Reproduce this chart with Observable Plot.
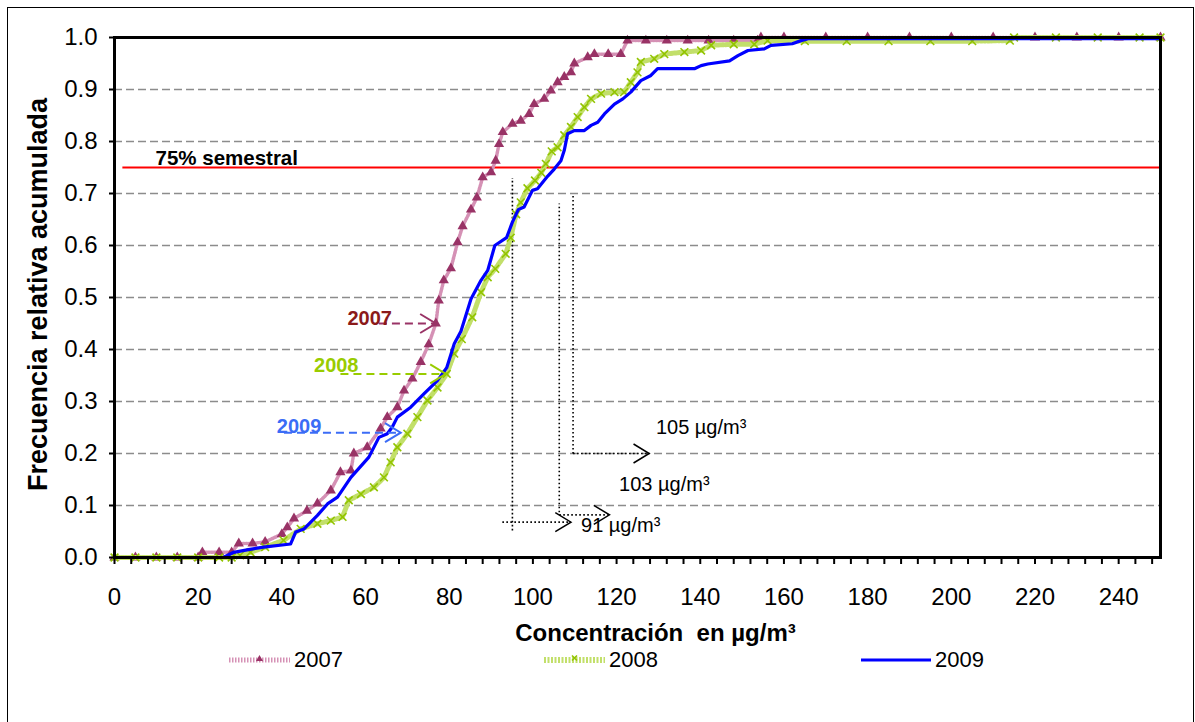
<!DOCTYPE html>
<html><head><meta charset="utf-8">
<script src="https://cdn.jsdelivr.net/npm/d3@7"></script>
<script src="https://cdn.jsdelivr.net/npm/@observablehq/plot@0.6"></script>
<style>
body{margin:0;background:#fff;}
#wrap{position:relative;width:1195px;height:722px;overflow:hidden;font-family:"Liberation Sans",Arial,sans-serif;background:#fff;}
#border{position:absolute;left:7px;top:7px;width:1187px;height:740px;border:1.5px solid #000;box-sizing:border-box;}
#chart{position:absolute;left:0;top:0;}
.leg{position:absolute;top:649px;height:22px;line-height:22px;display:flex;align-items:center;font-size:22px;color:#000;}
.leg svg{margin-right:3px;}
</style></head><body>
<div id="wrap"><div id="border"></div><div id="chart"></div><div id="legend"></div></div>
<script>
// ---- data: [concentration µg/m³, cumulative relative frequency]
const s2007 = [[0,0],[5,0],[10,0],[15,0],[20,0],[21,0.01],[25,0.01],[28,0.01],[29.7,0.027],[33,0.027],[36,0.03],[40,0.045],[41.3,0.058],[42.9,0.075],[46,0.09],[48.5,0.104],[51.7,0.129],[54,0.164],[56.5,0.167],[57.2,0.2],[60.4,0.212],[63.6,0.248],[65.2,0.27],[67.6,0.289],[69.2,0.321],[71.2,0.344],[73.2,0.376],[75.1,0.41],[76.8,0.45],[77.5,0.494],[78.7,0.533],[80.4,0.556],[82,0.606],[83.2,0.637],[85.2,0.669],[86.6,0.692],[88,0.731],[90,0.741],[91.1,0.763],[91.9,0.795],[92.8,0.818],[95.1,0.834],[97.1,0.84],[99.1,0.853],[100.3,0.872],[102.7,0.882],[104.3,0.898],[105.9,0.914],[107.5,0.924],[109.1,0.933],[109.9,0.95],[113.1,0.962],[114.7,0.968],[118,0.968],[121,0.968],[122.6,0.994],[127,0.994],[132,0.994],[137,0.994],[142,0.994],[148,0.994],[153.7,0.994],[154.5,1],[160,1],[170,1],[180,1],[190,1],[200,1],[210,1],[220,1],[230,1],[240,1],[250,1]];
const s2008 = [[0,0],[5,0],[10,0],[15,0],[20,0],[25,0],[28,0],[30,0.004],[32.5,0.01],[36,0.02],[40.4,0.033],[44.5,0.055],[48.5,0.065],[51.7,0.071],[54.5,0.078],[56,0.11],[58.9,0.122],[62,0.135],[64.4,0.154],[66,0.183],[67.6,0.212],[70,0.238],[72.4,0.27],[74.8,0.302],[77.2,0.327],[79.4,0.353],[81.2,0.392],[83,0.42],[85.5,0.462],[87.6,0.51],[89.2,0.539],[91,0.555],[93.5,0.584],[94.7,0.615],[96,0.66],[97.1,0.683],[98.7,0.71],[100.5,0.725],[102,0.74],[103.1,0.757],[104.5,0.781],[105.9,0.789],[107.5,0.812],[109.1,0.828],[110.7,0.847],[112.3,0.866],[113.9,0.882],[116.3,0.892],[119.5,0.895],[121.8,0.895],[123.4,0.914],[125,0.933],[125.8,0.953],[129,0.959],[131.4,0.968],[136.2,0.972],[140.2,0.975],[142.6,0.985],[148,0.987],[152.9,0.987],[156.1,0.994],[165,0.993],[175,0.993],[185,0.993],[195,0.993],[205,0.993],[214,0.994],[215,1],[225,1],[235,1],[245,1],[250,1]];
const s2009 = [[0,0],[26,0],[28.5,0.01],[32,0.015],[35.6,0.02],[42.1,0.026],[43.3,0.049],[45.3,0.055],[48.5,0.081],[50.9,0.103],[53.3,0.116],[56.5,0.154],[60.8,0.193],[63.2,0.231],[65.2,0.238],[66.4,0.251],[67.6,0.27],[70.8,0.289],[74,0.315],[77.2,0.34],[79.4,0.365],[81.2,0.411],[82.8,0.435],[85.2,0.497],[87.6,0.533],[89.2,0.552],[90.9,0.6],[93.7,0.615],[95.1,0.645],[96.5,0.669],[97.9,0.674],[99.9,0.706],[101.1,0.709],[103.5,0.733],[105.1,0.747],[106.7,0.763],[107.5,0.783],[108.3,0.815],[109.9,0.821],[112.3,0.821],[113.9,0.831],[115.5,0.837],[117.1,0.853],[119.5,0.872],[121.5,0.882],[123.4,0.895],[125.8,0.917],[128.2,0.927],[129.8,0.94],[138.6,0.94],[140.2,0.946],[141.8,0.949],[147,0.955],[149,0.965],[151.4,0.975],[155.3,0.978],[156.9,0.985],[162,0.988],[164.1,0.994],[166,0.998],[250,0.998]];

// ---- ticks & labels
const yTicks = [0,0.1,0.2,0.3,0.4,0.5,0.6,0.7,0.8,0.9,1.0];
const xLabelTicks = [0,20,40,60,80,100,120,140,160,180,200,220,240];
const xMinorTicks = d3.range(0, 250, 4);
const xTitle = "Concentración  en µg/m³";
const yTitle = "Frecuencia relativa acumulada";

// ---- reference line (75 % semestral)
const refLevel = [0.75];
const refStart = 2;
const refLabel = [{x: 9.8, y: 0.768, text: "75% semestral"}];

// ---- percentile guides (dotted)
const vGuides = [{x: 95.1, y1: 0.052, y2: 0.73}, {x: 106.3, y1: 0.087, y2: 0.681}, {x: 109.6, y1: 0.2, y2: 0.698}];
const hGuides = [{x1: 92.7, x2: 109.1, y: 0.068}, {x1: 106.3, x2: 118.3, y: 0.082}, {x1: 109.6, x2: 127.8, y: 0.2}];
const guideLabels = [{x: 111.5, y: 0.0615, text: "91 µg/m³"}, {x: 120.6, y: 0.14, text: "103 µg/m³"}, {x: 129.4, y: 0.2506, text: "105 µg/m³"}];

// ---- series tags
const tags = [
  {year: "2007", tx: 61.0, ty: 0.46, x1: 63.2, x2: 76.8, y: 0.45},
  {year: "2008", tx: 53.0, ty: 0.369, x1: 54.0, x2: 79.2, y: 0.353},
  {year: "2009", tx: 44.1, ty: 0.2525, x1: 40.5, x2: 68.4, y: 0.24}
];
const tagText = {"2007": "#8b1a1a", "2008": "#99cc00", "2009": "#3b6cf6"};
const tagLine = {"2007": "#993366", "2008": "#99cc00", "2009": "#3b6cf6"};

const chevron = {draw(ctx, size) {
  const r = Math.sqrt(size / Math.PI);
  ctx.moveTo(-1.65 * r, -r); ctx.lineTo(0, 0); ctx.lineTo(-1.65 * r, r);
}};

const X = d => d[0], Y = d => d[1];

const marks = [
  Plot.gridY(yTicks.filter(d => d > 0 && d < 1), {stroke: "#8c8c8c", strokeOpacity: 1, strokeWidth: 1.6, strokeDasharray: "8,4"}),
  Plot.ruleY(refLevel, {x1: refStart, x2: 250, stroke: "#ff0000", strokeWidth: 2}),
  Plot.text(refLabel, {x: "x", y: "y", text: "text", textAnchor: "start", fontWeight: "bold", fontSize: 20.5, fill: "#000"}),
  // guides
  Plot.link(vGuides, {x1: "x", x2: "x", y1: "y1", y2: "y2", stroke: "#000", strokeWidth: 1.6, strokeDasharray: "1.6,2.4"}),
  Plot.link(hGuides, {x1: "x1", x2: "x2", y1: "y", y2: "y", stroke: "#000", strokeWidth: 1.6, strokeDasharray: "1.6,2.4"}),
  Plot.dot(hGuides, {x: "x2", y: "y", symbol: chevron, r: 9.5, fill: "none", stroke: "#000", strokeWidth: 1.5}),
  Plot.text(guideLabels, {x: "x", y: "y", text: "text", textAnchor: "start", fontSize: 20, fill: "#000"}),
  // series
  Plot.line(s2007, {x: X, y: Y, stroke: "#d591b5", strokeWidth: 3.5, strokeDasharray: "1.5,1.5"}),
  Plot.dot(s2007, {x: X, y: Y, symbol: "triangle", r: 3.8, fill: "#993366"}),
  Plot.line(s2008, {x: X, y: Y, stroke: "#c2df6a", strokeWidth: 5, strokeDasharray: "2,1.5"}),
  Plot.dot(s2008, {x: X, y: Y, symbol: "times", r: 3.6, stroke: "#92c400", strokeWidth: 1.6}),
  Plot.line(s2009, {x: X, y: Y, stroke: "#0000ff", strokeWidth: 3.2})
];
for (const t of tags) {
  marks.push(
    Plot.link([t], {x1: "x1", x2: "x2", y1: "y", y2: "y", stroke: tagLine[t.year], strokeWidth: 2, strokeDasharray: "8,5"}),
    Plot.dot([t], {x: "x2", y: "y", symbol: chevron, r: 9.5, fill: "none", stroke: tagLine[t.year], strokeWidth: 2}),
    Plot.text([t], {x: "tx", y: "ty", text: "year", fill: tagText[t.year], fontWeight: "bold", fontSize: 20})
  );
}
marks.push(
  Plot.axisX(xMinorTicks, {tickSize: 7, strokeWidth: 2, tickFormat: () => "", label: null}),
  Plot.axisX(xLabelTicks, {tickSize: 0, tickPadding: 30, fontSize: 24, tickFormat: d3.format("d"), label: null}),
  Plot.axisY(yTicks, {tickSize: 5, strokeWidth: 2, tickPadding: 12, fontSize: 24, tickFormat: d3.format(".1f"), label: null}),
  Plot.text([xTitle], {frameAnchor: "bottom", lineAnchor: "middle", textAnchor: "middle", dy: 76, dx: 18, text: d => d, fontWeight: "bold", fontSize: 24, fill: "#000"}),
  Plot.text([yTitle], {frameAnchor: "left", rotate: -90, textAnchor: "middle", lineAnchor: "middle", dx: -76, dy: -3, text: d => d, fontWeight: "bold", fontSize: 27, fill: "#000"}),
  Plot.frame({stroke: "#000", strokeWidth: 3})
);

const chart = Plot.plot({
  width: 1195, height: 648,
  marginLeft: 114, marginRight: 35, marginTop: 37, marginBottom: 91,
  x: {domain: [0, 250]},
  y: {domain: [0, 1]},
  style: {fontFamily: '"Liberation Sans", Arial, sans-serif', background: "transparent", color: "#000"},
  marks
});
document.getElementById("chart").append(chart);

// ---- legend (below the plot)
const legendItems = [
  {year: "2007", left: 228},
  {year: "2008", left: 543},
  {year: "2009", left: 860}
];
const ns = "http://www.w3.org/2000/svg";
const legend = document.getElementById("legend");
for (const it of legendItems) {
  const div = document.createElement("div");
  div.className = "leg";
  div.style.left = it.left + "px";
  const w = it.year === "2009" ? 72 : 63;
  const svg = document.createElementNS(ns, "svg");
  svg.setAttribute("width", w); svg.setAttribute("height", 16);
  const line = document.createElementNS(ns, "line");
  line.setAttribute("x1", 1); line.setAttribute("x2", w - 1); line.setAttribute("y1", 8); line.setAttribute("y2", 8);
  if (it.year === "2007") {
    line.setAttribute("stroke", "#d591b5"); line.setAttribute("stroke-width", 5); line.setAttribute("stroke-dasharray", "1.5,1.5");
    svg.append(line);
    const p = document.createElementNS(ns, "path");
    p.setAttribute("d", `M${w/2},3 L${w/2+3.5},9 L${w/2-3.5},9 Z`); p.setAttribute("fill", "#993366");
    svg.append(p);
  } else if (it.year === "2008") {
    line.setAttribute("stroke", "#c2df6a"); line.setAttribute("stroke-width", 6); line.setAttribute("stroke-dasharray", "2,1.5");
    svg.append(line);
    const p = document.createElementNS(ns, "path");
    p.setAttribute("d", `M${w/2-2.5},3.5 L${w/2+2.5},8.5 M${w/2+2.5},3.5 L${w/2-2.5},8.5`); p.setAttribute("stroke", "#92c400"); p.setAttribute("stroke-width", 1.6);
    svg.append(p);
  } else {
    line.setAttribute("stroke", "#0000ff"); line.setAttribute("stroke-width", 3.2);
    svg.append(line);
  }
  div.append(svg);
  const span = document.createElement("span");
  span.textContent = it.year;
  div.append(span);
  legend.append(div);
}
</script>
</body></html>
